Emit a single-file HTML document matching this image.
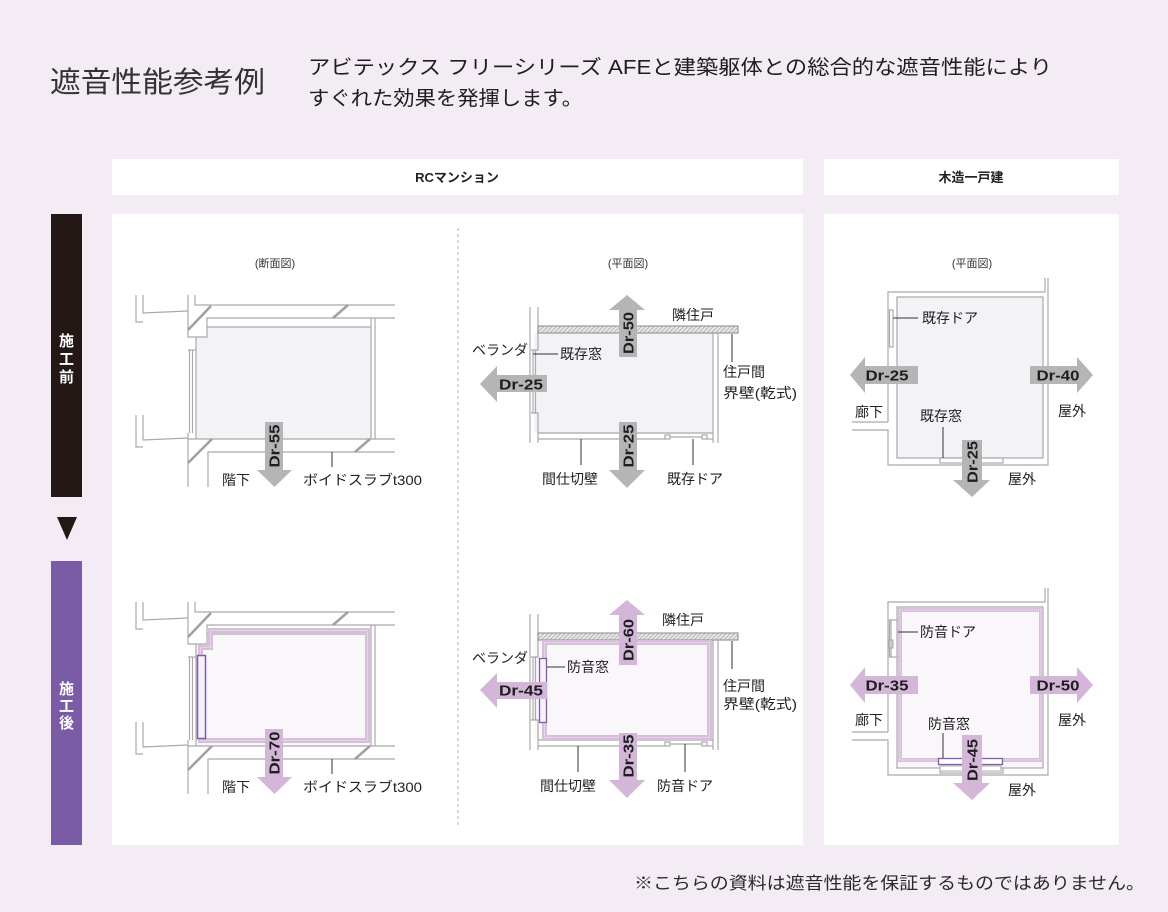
<!DOCTYPE html>
<html><head><meta charset="utf-8"><style>
html,body{margin:0;padding:0;background:#f3ecf4;}
svg{display:block;}
</style></head><body>
<svg width="1168" height="912" viewBox="0 0 1168 912" xmlns="http://www.w3.org/2000/svg" font-family="'Liberation Sans','Noto Sans CJK JP',sans-serif">
<defs>
<pattern id="hatch" width="3" height="3" patternUnits="userSpaceOnUse" patternTransform="rotate(45)">
<rect width="3" height="3" fill="#e6e6e6"/><line x1="0" y1="0" x2="0" y2="3" stroke="#9a9a9a" stroke-width="1.2"/>
</pattern>
</defs>
<rect width="1168" height="912" fill="#f3ecf4"/>

<!-- header -->
<text x="50" y="92" font-size="29" fill="#333" textLength="215" lengthAdjust="spacingAndGlyphs">遮音性能参考例</text>
<text x="308" y="74" font-size="20" fill="#1e1e1e" textLength="744" lengthAdjust="spacingAndGlyphs">アビテックス フリーシリーズ AFEと建築躯体との総合的な遮音性能により</text>
<text x="308" y="105" font-size="20" fill="#1e1e1e" textLength="275" lengthAdjust="spacingAndGlyphs">すぐれた効果を発揮します。</text>

<!-- panels -->
<rect x="112" y="159" width="691" height="36" fill="#fff"/>
<rect x="824" y="159" width="295" height="36" fill="#fff"/>
<text x="457" y="182" font-size="13" font-weight="bold" fill="#222" text-anchor="middle">RCマンション</text>
<text x="971" y="182" font-size="13" font-weight="bold" fill="#222" text-anchor="middle">木造一戸建</text>
<rect x="112" y="214" width="691" height="631" fill="#fff"/>
<rect x="824" y="214" width="295" height="631" fill="#fff"/>

<!-- side bars -->
<rect x="51" y="214" width="31" height="283" fill="#231815"/>
<g font-size="15" font-weight="bold" fill="#fff" text-anchor="middle">
<text x="66.5" y="346">施</text><text x="66.5" y="364">工</text><text x="66.5" y="382">前</text>
</g>
<polygon points="57,517 77,517 67,540" fill="#231815"/>
<rect x="51" y="561" width="31" height="284" fill="#7a5ba6"/>
<g font-size="15" font-weight="bold" fill="#fff" text-anchor="middle">
<text x="66.5" y="694">施</text><text x="66.5" y="711">工</text><text x="66.5" y="728">後</text>
</g>

<line x1="458" y1="228" x2="458" y2="828" stroke="#b0b0b0" stroke-width="1" stroke-dasharray="3,3"/>

<g font-size="11" fill="#333" text-anchor="middle">
<text x="275" y="267">(断面図)</text>
<text x="628" y="267">(平面図)</text>
<text x="972" y="267">(平面図)</text>
</g>

<!-- ===== Section A (top) ===== -->
<polygon points="207,327 371,327 371,439 196,439 196,337 207,337" fill="#f3f2f6"/>
<g id="secA" stroke="#a9a9a9" stroke-width="1.2" fill="none">
<polyline points="136,295 136,322 143,322"/>
<polyline points="143,295 143,313 188,311"/>
<polyline points="136,415 136,447 143,447"/>
<polyline points="143,415 143,440 188,438"/>
<polyline points="188,295 188,337 207,337 207,318 395,318"/>
<polyline points="195,295 195,305 395,305"/>
<line x1="207" y1="327" x2="371" y2="327"/>
<line x1="371" y1="318" x2="371" y2="439"/>
<line x1="375" y1="318" x2="375" y2="439"/>
<line x1="196" y1="337" x2="196" y2="439"/>
<line x1="188" y1="439" x2="395" y2="439"/>
<line x1="188" y1="433" x2="188" y2="487"/>
<polyline points="208,487 208,452 395,452"/>
<line x1="189.5" y1="350" x2="189.5" y2="433"/>
<line x1="192.5" y1="350" x2="192.5" y2="433"/>
<line x1="188" y1="350" x2="196" y2="350"/>
<g stroke-width="2.5" stroke="#a0a0a0">
<line x1="188" y1="330" x2="211" y2="306"/>
<line x1="333" y1="318" x2="348" y2="305"/>
<line x1="188" y1="463" x2="212" y2="439"/>
<line x1="355" y1="452" x2="370" y2="439"/>
</g>
</g>
<line x1="332" y1="452" x2="332" y2="467" stroke="#333" stroke-width="1"/>
<polygon points="265,422 283,422 283,470 292,470 274.5,487 257,470 265,470" fill="#b5b5b5"/>
<text transform="translate(274,446) rotate(-90)" text-anchor="middle" y="5.4" font-size="15" font-weight="bold" fill="#1e1e1e" textLength="43" lengthAdjust="spacingAndGlyphs">Dr-55</text>
<g font-size="14" fill="#222">
<text x="222" y="485">階下</text>
<text x="303" y="485" textLength="119" lengthAdjust="spacingAndGlyphs">ボイドスラブt300</text>
</g>

<!-- ===== Section A (bottom) ===== -->
<g transform="translate(0,307)">
<polygon points="207,327 371,327 371,439 196,439 196,337 207,337" fill="#faf7fa"/>
<use href="#secA"/>
</g>
<path d="M210.5,630.5 H367.5 V740.5 H200.5 V647.5 H210.5 Z" fill="none" stroke="#d7bedb" stroke-width="5"/>
<path d="M210.5,630.5 H367.5 V740.5 H200.5 V647.5 H210.5 Z" fill="none" stroke="#f3e9f4" stroke-width="1" stroke-dasharray="1,1"/>
<rect x="197.5" y="655.5" width="8" height="83" fill="#f6f0f7" stroke="#7d5ea8" stroke-width="1.5"/>
<line x1="332" y1="759" x2="332" y2="774" stroke="#333" stroke-width="1"/>
<polygon points="265,729 283,729 283,777 292,777 274.5,794 257,777 265,777" fill="#d3b6d8"/>
<text transform="translate(274,753) rotate(-90)" text-anchor="middle" y="5.4" font-size="15" font-weight="bold" fill="#1e1e1e" textLength="43" lengthAdjust="spacingAndGlyphs">Dr-70</text>
<g font-size="14" fill="#222">
<text x="222" y="792">階下</text>
<text x="303" y="792" textLength="119" lengthAdjust="spacingAndGlyphs">ボイドスラブt300</text>
</g>

<!-- ===== Plan B (top) ===== -->
<rect x="534" y="333" width="179" height="100" fill="#f3f2f6"/>
<g id="planB" stroke="#a9a9a9" stroke-width="1.2" fill="none">
<line x1="530" y1="307" x2="530" y2="443"/>
<polyline points="538,307 538,350 531,350"/>
<line x1="533" y1="350" x2="533" y2="413"/>
<line x1="535.5" y1="350" x2="535.5" y2="413"/>
<polyline points="531,413 538,413 538,443"/>
<line x1="713" y1="333" x2="713" y2="443"/>
<line x1="718" y1="333" x2="718" y2="443"/>
<line x1="538" y1="433" x2="713" y2="433"/>
<line x1="538" y1="439" x2="665" y2="439"/>
<line x1="707" y1="439" x2="713" y2="439"/>
<rect x="665" y="435" width="5" height="4"/>
<rect x="702" y="435" width="5" height="4"/>
<line x1="670" y1="437" x2="702" y2="437"/>
<rect x="538" y="326" width="200" height="7" fill="url(#hatch)" stroke="#999"/>
</g>
<g stroke="#333" stroke-width="1">
<line x1="533" y1="354" x2="558" y2="354"/>
<line x1="732" y1="334" x2="732" y2="362"/>
<line x1="581" y1="439" x2="581" y2="465"/>
<line x1="693" y1="439" x2="693" y2="465"/>
</g>
<g fill="#b5b5b5">
<polygon points="619,357 637,357 637,310 645,310 627,295 609,310 619,310"/>
<polygon points="547,375 547,392 497,392 497,402 480,384 497,366 497,375"/>
<polygon points="619,422 637,422 637,470 645,470 627,488 609,470 619,470"/>
</g>
<g font-size="15" font-weight="bold" fill="#1e1e1e" text-anchor="middle">
<text transform="translate(628,333) rotate(-90)" y="5.4" textLength="42" lengthAdjust="spacingAndGlyphs">Dr-50</text>
<text x="521" y="389.4" textLength="44" lengthAdjust="spacingAndGlyphs">Dr-25</text>
<text transform="translate(628,446) rotate(-90)" y="5.4" textLength="43" lengthAdjust="spacingAndGlyphs">Dr-25</text>
</g>
<g font-size="14" fill="#222">
<text x="672" y="320">隣住戸</text>
<text x="472" y="355">ベランダ</text>
<text x="560" y="359">既存窓</text>
<text x="723" y="377">住戸間</text>
<text x="723" y="398" textLength="74" lengthAdjust="spacingAndGlyphs">界壁(乾式)</text>
<text x="542" y="484">間仕切壁</text>
<text x="667" y="484">既存ドア</text>
</g>

<!-- ===== Plan B (bottom) ===== -->
<g transform="translate(0,307)">
<rect x="534" y="333" width="179" height="100" fill="#faf7fa"/>
<use href="#planB"/>
</g>
<rect x="544.5" y="642.5" width="165" height="95" fill="none" stroke="#d7bedb" stroke-width="5"/>
<rect x="544.5" y="642.5" width="165" height="95" fill="none" stroke="#f3e9f4" stroke-width="1" stroke-dasharray="1,1"/>
<rect x="539.5" y="658.5" width="7" height="64" fill="#f6f0f7" stroke="#7d5ea8" stroke-width="1.3"/>
<g stroke="#333" stroke-width="1">
<line x1="547" y1="667" x2="565" y2="667"/>
<line x1="732" y1="641" x2="732" y2="669"/>
<line x1="578" y1="746" x2="578" y2="772"/>
<line x1="685" y1="744" x2="685" y2="772"/>
</g>
<g fill="#d3b6d8">
<polygon points="619,665 637,665 637,615 645,615 627,600 609,615 619,615"/>
<polygon points="547,682 547,699 497,699 497,708 480,690 497,673 497,682"/>
<polygon points="619,733 637,733 637,780 645,780 627,798 609,780 619,780"/>
</g>
<g font-size="15" font-weight="bold" fill="#1e1e1e" text-anchor="middle">
<text transform="translate(628,640) rotate(-90)" y="5.4" textLength="42" lengthAdjust="spacingAndGlyphs">Dr-60</text>
<text x="521" y="695.4" textLength="44" lengthAdjust="spacingAndGlyphs">Dr-45</text>
<text transform="translate(628,756) rotate(-90)" y="5.4" textLength="43" lengthAdjust="spacingAndGlyphs">Dr-35</text>
</g>
<g font-size="14" fill="#222">
<text x="662" y="625">隣住戸</text>
<text x="472" y="663">ベランダ</text>
<text x="567" y="672">防音窓</text>
<text x="723" y="691">住戸間</text>
<text x="723" y="709" textLength="74" lengthAdjust="spacingAndGlyphs">界壁(乾式)</text>
<text x="540" y="791">間仕切壁</text>
<text x="657" y="791">防音ドア</text>
</g>

<!-- ===== Plan C (top) ===== -->
<rect x="897" y="297" width="146" height="161" fill="#f3f2f6"/>
<g id="planC" stroke="#a9a9a9" stroke-width="1.2" fill="none">
<polyline points="888,422 888,292 1045,292 1045,278"/>
<polyline points="1048,278 1048,465 888,465 888,430 852,430"/>
<line x1="852" y1="422" x2="888" y2="422"/>
<rect x="897" y="297" width="146" height="161"/>
<rect x="889.5" y="310" width="3.5" height="37" fill="#fff"/>
<rect x="940" y="458" width="63" height="5" fill="#fff"/>
</g>
<g stroke="#333" stroke-width="1">
<line x1="893" y1="318" x2="918" y2="318"/>
<line x1="943" y1="427" x2="943" y2="458"/>
</g>
<g fill="#b5b5b5">
<polygon points="918,366 918,384 865,384 865,393 850,375 865,357 865,366"/>
<polygon points="1030,366 1077,366 1077,357 1093,375 1077,393 1077,384 1030,384"/>
<polygon points="962,440 982,440 982,480 990,480 972,497 953,480 962,480"/>
</g>
<g font-size="15" font-weight="bold" fill="#1e1e1e" text-anchor="middle">
<text x="887" y="380.4" textLength="43" lengthAdjust="spacingAndGlyphs">Dr-25</text>
<text x="1058" y="380.4" textLength="43" lengthAdjust="spacingAndGlyphs">Dr-40</text>
<text transform="translate(972,462) rotate(-90)" y="5.4" textLength="42" lengthAdjust="spacingAndGlyphs">Dr-25</text>
</g>
<g font-size="14" fill="#222">
<text x="922" y="323">既存ドア</text>
<text x="855" y="417">廊下</text>
<text x="920" y="421">既存窓</text>
<text x="1058" y="416">屋外</text>
<text x="1008" y="484">屋外</text>
</g>

<!-- ===== Plan C (bottom) ===== -->
<g transform="translate(0,310)">
<rect x="897" y="297" width="146" height="161" fill="#faf7fa"/>
<use href="#planC"/>
</g>
<rect x="900" y="610" width="141" height="150" fill="none" stroke="#d7bedb" stroke-width="4"/>
<rect x="900" y="610" width="141" height="150" fill="none" stroke="#f3e9f4" stroke-width="1" stroke-dasharray="1,1"/>
<rect x="891" y="620" width="6" height="37" fill="#fff" stroke="#a9a9a9" stroke-width="1.2"/>
<rect x="889" y="640" width="4" height="8" fill="#ccc" stroke="#a9a9a9" stroke-width="1"/>
<rect x="938.5" y="758.5" width="64" height="6" fill="#fff" stroke="#7d5ea8" stroke-width="1.3"/>
<rect x="940" y="766" width="61" height="5" fill="#fff" stroke="#a9a9a9" stroke-width="1"/>
<g stroke="#333" stroke-width="1">
<line x1="898" y1="632" x2="918" y2="632"/>
<line x1="943" y1="733" x2="943" y2="758"/>
</g>
<g fill="#d3b6d8">
<polygon points="918,676 918,694 865,694 865,703 850,685 865,667 865,676"/>
<polygon points="1030,676 1077,676 1077,667 1093,685 1077,703 1077,694 1030,694"/>
<polygon points="962,735 982,735 982,783 990,783 972,800 953,783 962,783"/>
</g>
<g font-size="15" font-weight="bold" fill="#1e1e1e" text-anchor="middle">
<text x="887" y="690.4" textLength="43" lengthAdjust="spacingAndGlyphs">Dr-35</text>
<text x="1058" y="690.4" textLength="43" lengthAdjust="spacingAndGlyphs">Dr-50</text>
<text transform="translate(972,760) rotate(-90)" y="5.4" textLength="42" lengthAdjust="spacingAndGlyphs">Dr-45</text>
</g>
<g font-size="14" fill="#222">
<text x="920" y="637">防音ドア</text>
<text x="855" y="725">廊下</text>
<text x="928" y="729">防音窓</text>
<text x="1058" y="725">屋外</text>
<text x="1008" y="795">屋外</text>
</g>

<!-- footer -->
<text x="634" y="889" font-size="17" fill="#2a2a2a" textLength="511" lengthAdjust="spacingAndGlyphs">※こちらの資料は遮音性能を保証するものではありません。</text>
</svg>
</body></html>
